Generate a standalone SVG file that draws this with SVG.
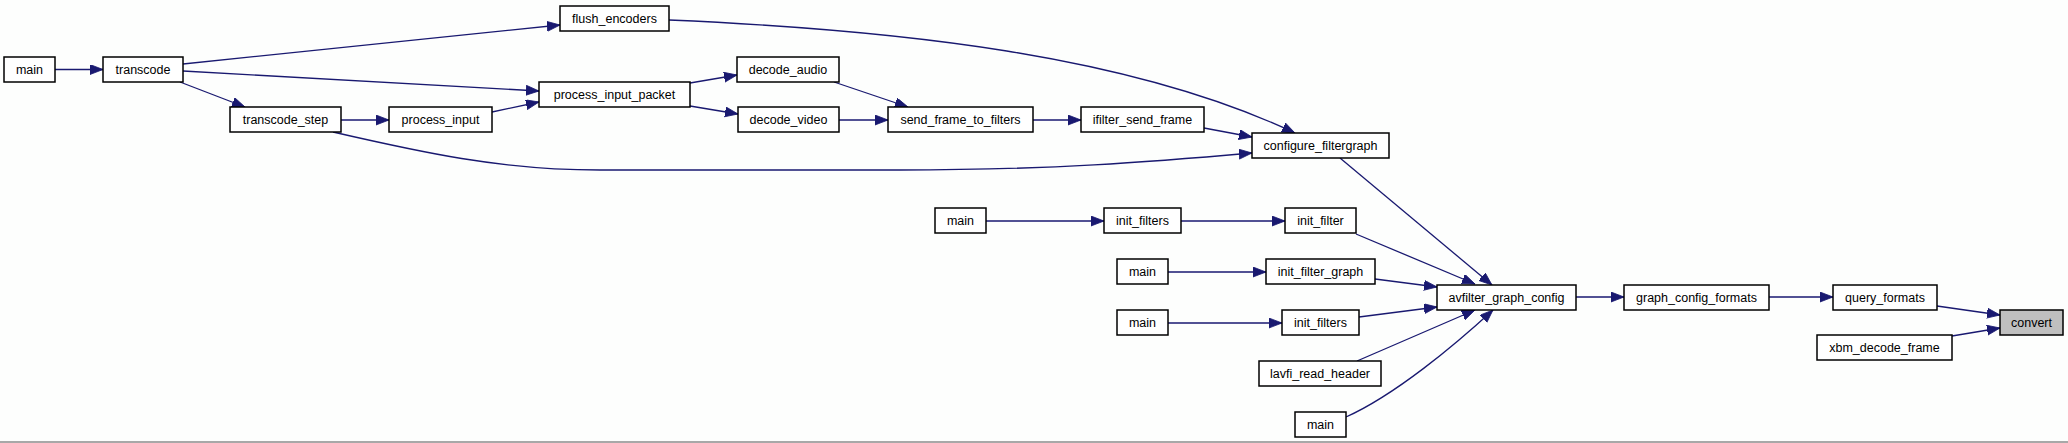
<svg xmlns="http://www.w3.org/2000/svg" width="2068" height="443" viewBox="0 0 2068 443">
<defs>
<style>
.n rect{fill:#ffffff;stroke:#000000;stroke-width:1.5}
.n.g rect{fill:#bfbfbf}
.n text{font-family:"Liberation Sans",Arial,sans-serif;font-size:12.5px;fill:#000;text-anchor:middle}
.e path{fill:none;stroke:#191970;stroke-width:1.3;marker-end:url(#ah)}
</style>
<marker id="ah" markerUnits="userSpaceOnUse" markerWidth="14" markerHeight="11" refX="13" refY="5" orient="auto">
<path d="M0,0 L13,5 L0,10 z" fill="#191970" stroke="#191970" stroke-width="0.8"/>
</marker>
</defs>
<rect x="0" y="0" width="2068" height="443" fill="#fdfefd"/>
<rect x="0" y="441" width="2068" height="2" fill="#a8a8a8"/>
<g id="edges" class="e">
<path d="M55,69.5 L103,69.5"/>
<path d="M183,64 L560,25"/>
<path d="M183,71 L539,91"/>
<path d="M180,82 L245,107"/>
<path d="M341,120 L389,120"/>
<path d="M492,112 L539,102"/>
<path d="M690,83 L737,75"/>
<path d="M690,106 L738,114"/>
<path d="M834,82 L908,107"/>
<path d="M839,120 L888,120"/>
<path d="M1033,120 L1081,120"/>
<path d="M1204,128 L1252,137"/>
<path d="M669,20 C900,30 1130,55 1295,133"/>
<path d="M333,132 C420,152 500,170 600,170 L900,170 C1050,170 1150,162 1252,153"/>
<path d="M1340,158 L1492,285"/>
<path d="M986,221 L1104,221"/>
<path d="M1181,221 L1285,221"/>
<path d="M1356,234 L1475,284"/>
<path d="M1168,272 L1266,272"/>
<path d="M1375,279 L1437,287"/>
<path d="M1168,323 L1282,323"/>
<path d="M1359,317 L1437,307"/>
<path d="M1357,361 L1475,310"/>
<path d="M1346,417 C1395,395 1455,345 1493,310"/>
<path d="M1576,297 L1624,297"/>
<path d="M1769,297 L1833,297"/>
<path d="M1937,306 L2000,315"/>
<path d="M1952,336 L2000,328"/>
</g>
<g id="n_main_a" class="n"><rect x="4" y="57" width="51" height="25"/><text x="29.5" y="73.5">main</text></g>
<g id="n_transcode" class="n"><rect x="103" y="57" width="80" height="25"/><text x="143" y="73.5">transcode</text></g>
<g id="n_flush_encoders" class="n"><rect x="560" y="6" width="109" height="25"/><text x="614.5" y="22.5">flush_encoders</text></g>
<g id="n_process_input_packet" class="n"><rect x="539" y="82" width="151" height="25"/><text x="614.5" y="98.5">process_input_packet</text></g>
<g id="n_decode_audio" class="n"><rect x="737" y="57" width="102" height="25"/><text x="788" y="73.5">decode_audio</text></g>
<g id="n_decode_video" class="n"><rect x="738" y="107" width="101" height="25"/><text x="788.5" y="123.5">decode_video</text></g>
<g id="n_transcode_step" class="n"><rect x="230" y="107" width="111" height="25"/><text x="285.5" y="123.5">transcode_step</text></g>
<g id="n_process_input" class="n"><rect x="389" y="107" width="103" height="25"/><text x="440.5" y="123.5">process_input</text></g>
<g id="n_send_frame_to_filters" class="n"><rect x="888" y="107" width="145" height="25"/><text x="960.5" y="123.5">send_frame_to_filters</text></g>
<g id="n_ifilter_send_frame" class="n"><rect x="1081" y="107" width="123" height="25"/><text x="1142.5" y="123.5">ifilter_send_frame</text></g>
<g id="n_configure_filtergraph" class="n"><rect x="1252" y="133" width="137" height="25"/><text x="1320.5" y="149.5">configure_filtergraph</text></g>
<g id="n_main_b" class="n"><rect x="935" y="208" width="51" height="25"/><text x="960.5" y="224.5">main</text></g>
<g id="n_init_filters_a" class="n"><rect x="1104" y="208" width="77" height="25"/><text x="1142.5" y="224.5">init_filters</text></g>
<g id="n_init_filter" class="n"><rect x="1285" y="208" width="71" height="25"/><text x="1320.5" y="224.5">init_filter</text></g>
<g id="n_main_c" class="n"><rect x="1117" y="259" width="51" height="25"/><text x="1142.5" y="275.5">main</text></g>
<g id="n_init_filter_graph" class="n"><rect x="1266" y="259" width="109" height="25"/><text x="1320.5" y="275.5">init_filter_graph</text></g>
<g id="n_main_d" class="n"><rect x="1117" y="310" width="51" height="25"/><text x="1142.5" y="326.5">main</text></g>
<g id="n_init_filters_b" class="n"><rect x="1282" y="310" width="77" height="25"/><text x="1320.5" y="326.5">init_filters</text></g>
<g id="n_lavfi_read_header" class="n"><rect x="1259" y="361" width="122" height="25"/><text x="1320" y="377.5">lavfi_read_header</text></g>
<g id="n_main_e" class="n"><rect x="1295" y="412" width="51" height="25"/><text x="1320.5" y="428.5">main</text></g>
<g id="n_avfilter_graph_config" class="n"><rect x="1437" y="285" width="139" height="25"/><text x="1506.5" y="301.5">avfilter_graph_config</text></g>
<g id="n_graph_config_formats" class="n"><rect x="1624" y="285" width="145" height="25"/><text x="1696.5" y="301.5">graph_config_formats</text></g>
<g id="n_query_formats" class="n"><rect x="1833" y="285" width="104" height="25"/><text x="1885" y="301.5">query_formats</text></g>
<g id="n_convert" class="n g"><rect x="2000" y="310" width="63" height="25"/><text x="2031.5" y="326.5">convert</text></g>
<g id="n_xbm_decode_frame" class="n"><rect x="1817" y="335" width="135" height="25"/><text x="1884.5" y="351.5">xbm_decode_frame</text></g>
</svg>
